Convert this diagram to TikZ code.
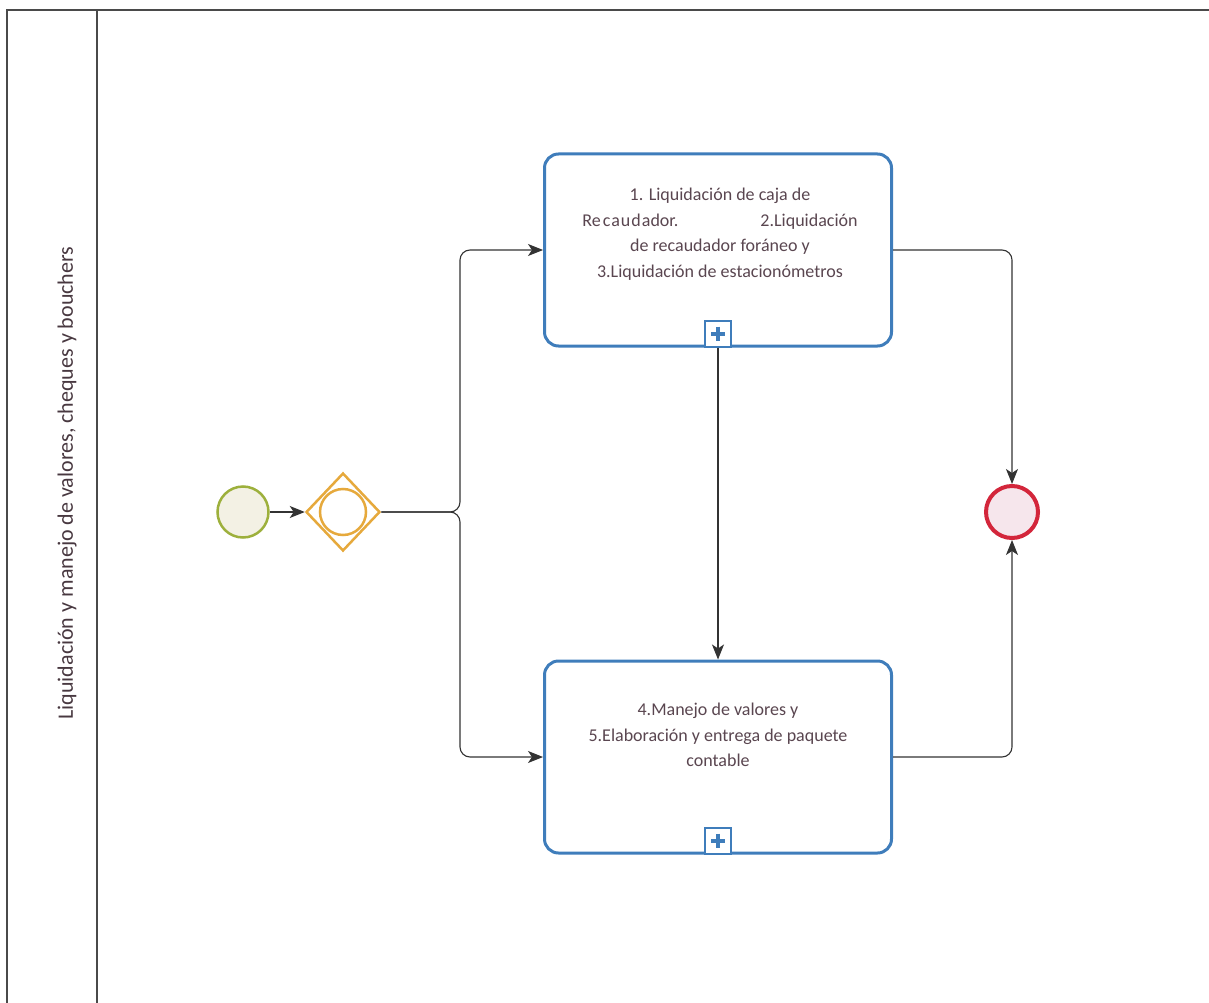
\documentclass[tikz,border=0pt]{standalone}
\usepackage{fontspec}
\setmainfont{Carlito}
\usetikzlibrary{shapes.geometric,arrows.meta,calc}
\definecolor{taskblue}{HTML}{3F7DBB}
\definecolor{txtc}{HTML}{5A4650}
\definecolor{startg}{HTML}{9DB03C}
\definecolor{gateo}{HTML}{E6A93C}
\definecolor{endr}{HTML}{D3263B}
\definecolor{endfill}{HTML}{F6E6EC}
\definecolor{startfill}{HTML}{F3F1E4}
\definecolor{lanec}{HTML}{4A4A4A}
\tikzset{
  x=1pt,y=-1pt,
  task/.style={draw=taskblue,line width=3pt,rounded corners=14pt,fill=white,minimum width=347pt,minimum height=192pt,inner sep=0pt},
  tasktext/.style={text=txtc,font=\fontsize{18}{25.5}\selectfont,align=center},
  marker/.style={draw=taskblue,line width=2pt,fill=white,minimum width=26pt,minimum height=26pt,inner sep=0pt},
  startev/.style={circle,draw=startg,line width=2.5pt,fill=startfill,minimum size=51pt,inner sep=0pt},
  endev/.style={circle,draw=endr,line width=4pt,fill=endfill,minimum size=52pt,inner sep=0pt},
  gate/.style={diamond,draw=gateo,line width=2.5pt,fill=white,minimum width=74pt,minimum height=78pt,inner sep=0pt},
  gateinner/.style={circle,draw=gateo,line width=2.5pt,minimum size=46pt,inner sep=0pt},
  flow/.style={draw=black!80,line width=1.1pt,rounded corners=10pt,-{Stealth[length=15pt,width=12pt,inset=4pt]}},
  lane/.style={draw=lanec,line width=1.6pt},
  lanetext/.style={text=txtc!80!black,font=\fontsize{22}{26}\selectfont,rotate=90}
}
\begin{document}
\begin{tikzpicture}
\useasboundingbox (0,0) rectangle (1209,1003);
% lane frame
\coordinate (tl) at (7,10);
\coordinate (tr) at (1209,10);
\coordinate (bl) at (7,1003);
\coordinate (dt) at (97,10);
\coordinate (db) at (97,1003);
\draw[lane] (tr) -- (tl) -- (bl);
\draw[lane] (dt) -- (db);
\node[lanetext] (lanelabel) at (67,483) {Liquidación y manejo de valores, cheques y bouchers};
% events and gateway
\node[startev] (start) at (243,512) {};
\node[gate] (gw) at (343,512) {};
\node[gateinner] (gwin) at (343,512) {};
\node[endev] (end) at (1012,512) {};
% tasks
\node[task] (t1) at (718,250) {};
\node[tasktext] (t1text) at (720,234) {1. Liquidación de caja de\\Re\hspace{2pt}c\hspace{1pt}a\hspace{1pt}u\hspace{1pt}d\hspace{1pt}ador.\hspace{82pt}2.Liquidación\\de recaudador foráneo y\\3.Liquidación de estacionómetros};
\node[marker,anchor=south] (m1) at (t1.south) {};
\node[task] (t2) at (718,757) {};
\node[tasktext] (t2text) at (718,735) {4.Manejo de valores y\\5.Elaboración y entrega de paquete\\contable};
\node[marker,anchor=south] (m2) at (t2.south) {};
% plus signs
\foreach \m in {m1,m2}{
  \draw[taskblue,line width=4pt] ($(\m.center)+(-7,0)$) -- ($(\m.center)+(7,0)$);
  \draw[taskblue,line width=4pt] ($(\m.center)+(0,-7)$) -- ($(\m.center)+(0,7)$);
}
% flows
\draw[flow] (start.east) -- (gw.west);
\draw[flow] (gw.east) -- (460,512) -- (460,250) -- (t1.west);
\draw[flow] (gw.east) -- (460,512) -- (460,757) -- (t2.west);
\draw[flow] (m1.south) -- (t2.north);
\draw[flow] (t1.east) -- (1012,250) -- (end.north);
\draw[flow] (t2.east) -- (1012,757) -- (end.south);
\end{tikzpicture}
\end{document}
